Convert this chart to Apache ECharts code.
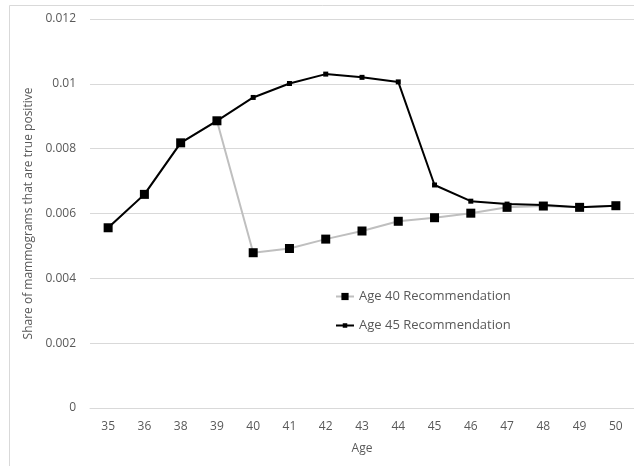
<!DOCTYPE html>
<html>
<head>
<meta charset="utf-8">
<script src="https://cdn.jsdelivr.net/npm/echarts@6/dist/echarts.min.js"></script>
<style>html,body{margin:0;padding:0;background:#fff}#c{width:634px;height:466px}</style>
</head>
<body>
<div id="c"></div>
<script>
var ages = ['35','36','38','39','40','41','42','43','44','45','46','47','48','49','50'];
var age40 = [0.00556,0.00659,0.00818,0.00886,0.00479,0.00492,0.00521,0.00546,0.00576,0.00587,0.00601,0.00619,0.00623,0.00619,0.00624];
var age45 = [0.00556,0.00659,0.00818,0.00886,0.00958,0.01001,0.01030,0.01020,0.01006,0.00688,0.00638,0.00629,0.00626,0.00619,0.00624];
var seriesNames = ['Age 40 Recommendation','Age 45 Recommendation'];
var yTitle = 'Share of mammograms that are true positive';
var xTitle = 'Age';

var FONT = 'Open Sans';
var chart = echarts.init(document.getElementById('c'), null, {renderer:'canvas'});
chart.setOption({
  animation:false,
  backgroundColor:'#fff',
  graphic:[{type:'rect', shape:{x:9.5,y:5.5,width:640,height:480}, style:{fill:'none',stroke:'#d9d9d9',lineWidth:1}, z:-1}],
  grid:{left:90,right:0,top:19,bottom:58},
  legend:{
    orient:'vertical', left:330, top:285, itemGap:16, itemWidth:18, itemHeight:9,
    textStyle:{color:'#595959', fontFamily:FONT, fontSize:13},
    data:[
      {name:seriesNames[0]},
      {name:seriesNames[1], icon:'path://M0 4H20V6H0Z M7.5 2.5H12.5V7.5H7.5Z'}
    ]
  },
  xAxis:{
    type:'category', data:ages, boundaryGap:true,
    name:xTitle, nameLocation:'middle', nameGap:35,
    nameTextStyle:{color:'#595959', fontFamily:FONT, fontSize:12},
    axisLine:{show:true, lineStyle:{color:'#d9d9d9'}}, axisTick:{show:false},
    axisLabel:{color:'#595959', fontFamily:FONT, fontSize:12, margin:13}
  },
  yAxis:{
    type:'value', min:0, max:0.012, interval:0.002,
    name:yTitle, nameLocation:'middle', nameGap:53,
    nameTextStyle:{color:'#595959', fontFamily:FONT, fontSize:12},
    axisLine:{show:false}, axisTick:{show:false},
    axisLabel:{color:'#595959', fontFamily:FONT, fontSize:12, margin:14, formatter:function(v){return String(+v.toFixed(3));}},
    splitLine:{lineStyle:{color:'#d9d9d9'}}
  },
  series:[
    {name:seriesNames[0], type:'line', data:age40, symbol:'rect', symbolSize:9,
     itemStyle:{color:'#000'}, lineStyle:{color:'#bfbfbf', width:2}, z:2},
    {name:seriesNames[1], type:'line', data:age45, symbol:'rect', symbolSize:5,
     itemStyle:{color:'#000'}, lineStyle:{color:'#000', width:2}, z:3}
  ]
});
</script>
</body>
</html>
